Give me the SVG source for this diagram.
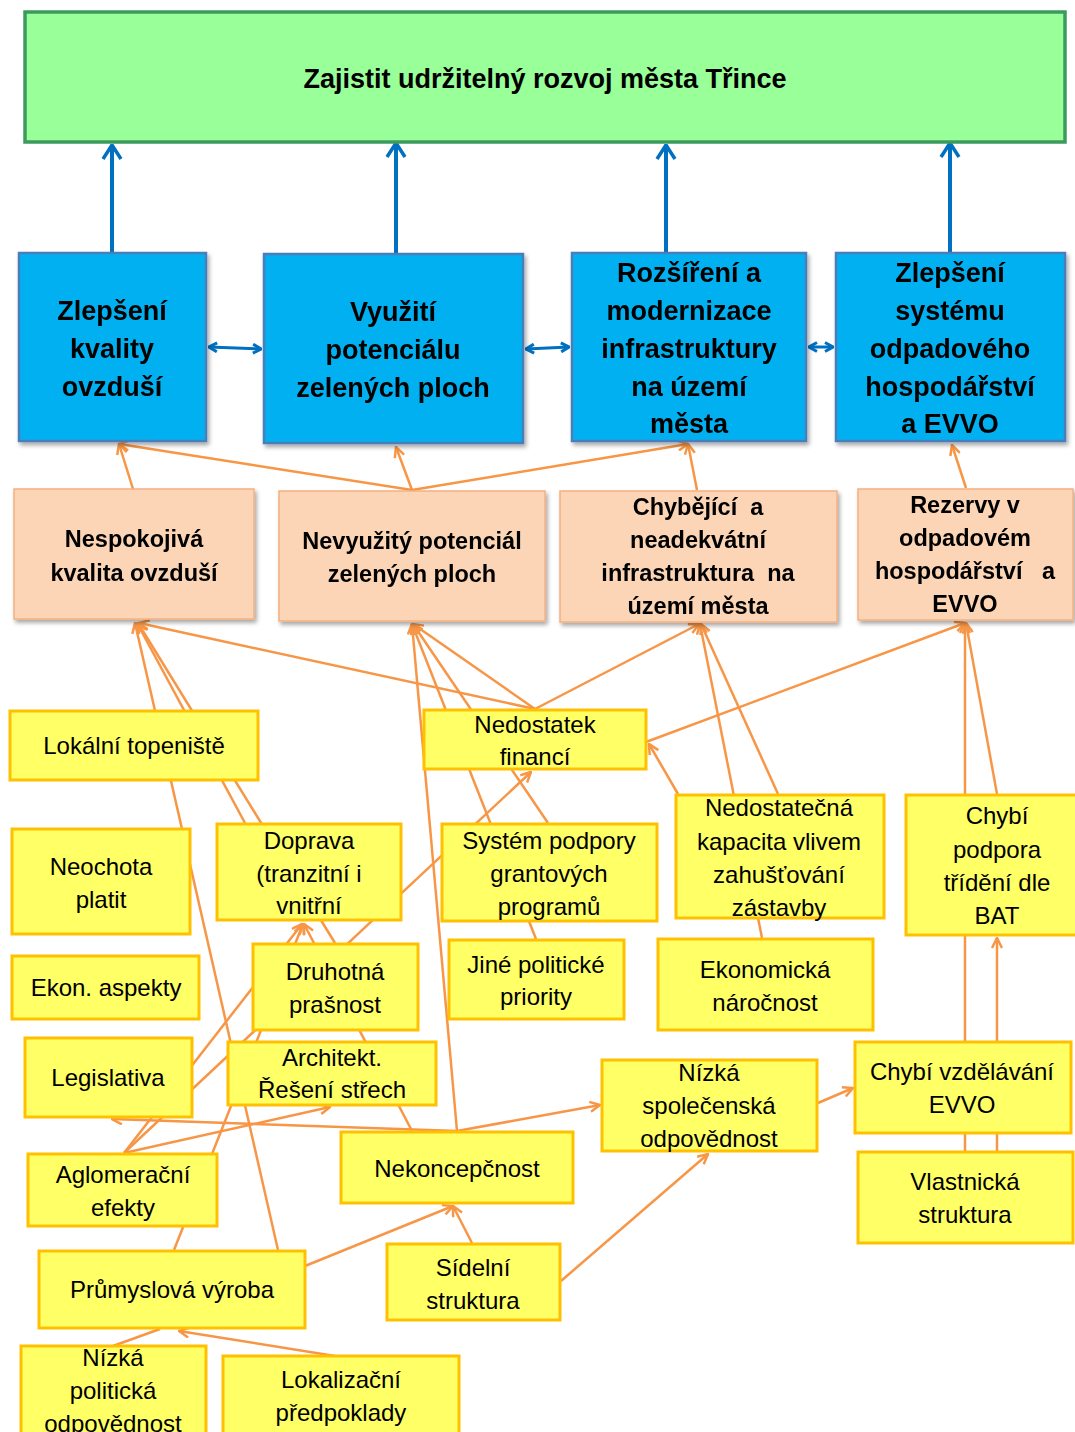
<svg xmlns="http://www.w3.org/2000/svg" width="1075" height="1432" viewBox="0 0 1075 1432">
<style>
text{font-family:"Liberation Sans",Arial,sans-serif;text-anchor:middle;fill:#000}
.goal rect{fill:#99FF99;stroke:#3C9A5F;stroke-width:3.5}
.goal text{font-size:27px;font-weight:bold}
.b rect{fill:#00B0F0;stroke:#4A7EBB;stroke-width:2.5}
.b text{font-size:27px;font-weight:bold}
.p rect{fill:#FBD5B5;stroke:#F5B080;stroke-width:1.5}
.p text{font-size:23.5px;font-weight:bold}
.y rect{fill:#FFFF66;stroke:#FFC000;stroke-width:3}
.y text{font-size:24px}
.co line{stroke:#F79646;stroke-width:2.5;fill:none}
.cb line{stroke:#0070C0;stroke-width:4;fill:none}
</style>
<defs>
<filter id="sh" x="-10%" y="-10%" width="125%" height="125%">
<feDropShadow dx="2" dy="3" stdDeviation="2" flood-color="#000" flood-opacity="0.35"/>
</filter>
<marker id="ao" viewBox="0 0 12 12" refX="11" refY="6" markerWidth="12" markerHeight="12" orient="auto" markerUnits="userSpaceOnUse">
<path d="M1,1 L11,6 L1,11" fill="none" stroke="#F79646" stroke-width="2.5"/>
</marker>
<marker id="ab" viewBox="0 0 16 22" refX="15" refY="11" markerWidth="16" markerHeight="22" orient="auto" markerUnits="userSpaceOnUse">
<path d="M1,2 L15,11 L1,20" fill="none" stroke="#0070C0" stroke-width="3.5"/>
</marker>
<marker id="as" viewBox="0 0 10 12" refX="9" refY="6" markerWidth="10" markerHeight="12" orient="auto-start-reverse" markerUnits="userSpaceOnUse">
<path d="M1,1.5 L9,6 L1,10.5" fill="none" stroke="#0070C0" stroke-width="3"/>
</marker>
</defs>
<rect x="0" y="0" width="1075" height="1432" fill="#FFFFFF"/>
<g id="connectors">
<g class="cb">
<line x1="112" y1="252" x2="112" y2="145" marker-end="url(#ab)"/>
<line x1="396" y1="253" x2="396" y2="143" marker-end="url(#ab)"/>
<line x1="666" y1="252" x2="666" y2="145" marker-end="url(#ab)"/>
<line x1="950" y1="252" x2="950" y2="143" marker-end="url(#ab)"/>
<line x1="209" y1="347" x2="261" y2="349" style="stroke-width:3" marker-start="url(#as)" marker-end="url(#as)"/>
<line x1="526" y1="349" x2="569" y2="347" style="stroke-width:3" marker-start="url(#as)" marker-end="url(#as)"/>
<line x1="809" y1="347" x2="833" y2="347" style="stroke-width:3" marker-start="url(#as)" marker-end="url(#as)"/>
</g>
<g class="co">
<line x1="133" y1="489" x2="119" y2="444" marker-end="url(#ao)"/>
<line x1="412" y1="490" x2="119" y2="444" marker-end="url(#ao)"/>
<line x1="412" y1="490" x2="396" y2="447" marker-end="url(#ao)"/>
<line x1="412" y1="490" x2="688" y2="444" marker-end="url(#ao)"/>
<line x1="697" y1="490" x2="688" y2="444" marker-end="url(#ao)"/>
<line x1="966" y1="488" x2="952" y2="445" marker-end="url(#ao)"/>
<line x1="278" y1="1250" x2="135" y2="623" marker-end="url(#ao)"/>
<line x1="245" y1="823" x2="137" y2="623" marker-end="url(#ao)"/>
<line x1="335" y1="943" x2="138" y2="623" marker-end="url(#ao)"/>
<line x1="535" y1="709" x2="139" y2="623" marker-end="url(#ao)"/>
<line x1="535" y1="709" x2="413" y2="624" marker-end="url(#ao)"/>
<line x1="536" y1="939" x2="412" y2="624" marker-end="url(#ao)"/>
<line x1="548" y1="823" x2="413" y2="624" marker-end="url(#ao)"/>
<line x1="457" y1="1131" x2="412" y2="624" marker-end="url(#ao)"/>
<line x1="535" y1="709" x2="699" y2="624" marker-end="url(#ao)"/>
<line x1="762" y1="938" x2="700" y2="624" marker-end="url(#ao)"/>
<line x1="778" y1="794" x2="701" y2="624" marker-end="url(#ao)"/>
<line x1="646" y1="742" x2="965" y2="623" marker-end="url(#ao)"/>
<line x1="965" y1="1151" x2="965" y2="623" marker-end="url(#ao)"/>
<line x1="997" y1="794" x2="966" y2="623" marker-end="url(#ao)"/>
<line x1="678" y1="794" x2="649" y2="744" marker-end="url(#ao)"/>
<line x1="124" y1="1153" x2="531" y2="772" marker-end="url(#ao)"/>
<line x1="174" y1="1250" x2="303" y2="924" marker-end="url(#ao)"/>
<line x1="124" y1="1153" x2="302" y2="924" marker-end="url(#ao)"/>
<line x1="412" y1="1131" x2="304" y2="924" marker-end="url(#ao)"/>
<line x1="124" y1="1153" x2="330" y2="1107" marker-end="url(#ao)"/>
<line x1="457" y1="1131" x2="112" y2="1119" marker-end="url(#ao)"/>
<line x1="457" y1="1131" x2="600" y2="1105" marker-end="url(#ao)"/>
<line x1="305" y1="1266" x2="453" y2="1206" marker-end="url(#ao)"/>
<line x1="472" y1="1243" x2="453" y2="1206" marker-end="url(#ao)"/>
<line x1="561" y1="1281" x2="708" y2="1154" marker-end="url(#ao)"/>
<line x1="818" y1="1103" x2="853" y2="1088" marker-end="url(#ao)"/>
<line x1="997" y1="1151" x2="997" y2="938" marker-end="url(#ao)"/>
<line x1="335" y1="1356" x2="179" y2="1331" marker-end="url(#ao)"/>
<line x1="113" y1="1346" x2="160" y2="1329"/>
</g>
</g>
<g id="goal" class="goal"><rect x="25" y="12" width="1040" height="130"/><text x="545" y="88">Zajistit udržitelný rozvoj města Třince</text></g>
<g id="b1" class="b" filter="url(#sh)"><rect x="19" y="253" width="187" height="188"/><text><tspan x="112" y="320">Zlepšení</tspan><tspan x="112" y="358">kvality</tspan><tspan x="112" y="396">ovzduší</tspan></text></g>
<g id="b2" class="b" filter="url(#sh)"><rect x="264" y="254" width="259" height="189"/><text><tspan x="393" y="321">Využití</tspan><tspan x="393" y="359">potenciálu</tspan><tspan x="393" y="397">zelených ploch</tspan></text></g>
<g id="b3" class="b" filter="url(#sh)"><rect x="572" y="253" width="234" height="188"/><text><tspan x="689" y="282">Rozšíření a</tspan><tspan x="689" y="320">modernizace</tspan><tspan x="689" y="358">infrastruktury</tspan><tspan x="689" y="396">na území</tspan><tspan x="689" y="433">města</tspan></text></g>
<g id="b4" class="b" filter="url(#sh)"><rect x="836" y="253" width="229" height="188"/><text><tspan x="950" y="282">Zlepšení</tspan><tspan x="950" y="320">systému</tspan><tspan x="950" y="358">odpadového</tspan><tspan x="950" y="396">hospodářství</tspan><tspan x="950" y="433">a EVVO</tspan></text></g>
<g id="p1" class="p" filter="url(#sh)"><rect x="14" y="489" width="240" height="130"/><text><tspan x="134" y="547">Nespokojivá</tspan><tspan x="134" y="581">kvalita ovzduší</tspan></text></g>
<g id="p2" class="p" filter="url(#sh)"><rect x="279" y="491" width="266" height="130"/><text><tspan x="412" y="549">Nevyužitý potenciál</tspan><tspan x="412" y="582">zelených ploch</tspan></text></g>
<g id="p3" class="p" filter="url(#sh)"><rect x="560" y="491" width="277" height="131"/><text xml:space="preserve"><tspan x="698" y="515">Chybějící  a</tspan><tspan x="698" y="548">neadekvátní</tspan><tspan x="698" y="581">infrastruktura  na</tspan><tspan x="698" y="614">území města</tspan></text></g>
<g id="p4" class="p" filter="url(#sh)"><rect x="858" y="489" width="215" height="131"/><text xml:space="preserve"><tspan x="965" y="513">Rezervy v</tspan><tspan x="965" y="546">odpadovém</tspan><tspan x="965" y="579">hospodářství   a</tspan><tspan x="965" y="612">EVVO</tspan></text></g>
<g id="y1" class="y"><rect x="10" y="711" width="248" height="69"/><text x="134" y="754">Lokální topeniště</text></g>
<g id="y2" class="y"><rect x="424" y="710" width="222" height="59"/><text><tspan x="535" y="733">Nedostatek</tspan><tspan x="535" y="765">financí</tspan></text></g>
<g id="y3" class="y"><rect x="12" y="829" width="178" height="105"/><text><tspan x="101" y="875">Neochota</tspan><tspan x="101" y="908">platit</tspan></text></g>
<g id="y4" class="y"><rect x="217" y="824" width="184" height="96"/><text><tspan x="309" y="849">Doprava</tspan><tspan x="309" y="882">(tranzitní i</tspan><tspan x="309" y="914">vnitřní</tspan></text></g>
<g id="y5" class="y"><rect x="442" y="824" width="215" height="97"/><text><tspan x="549" y="849">Systém podpory</tspan><tspan x="549" y="882">grantových</tspan><tspan x="549" y="915">programů</tspan></text></g>
<g id="y6" class="y"><rect x="676" y="795" width="208" height="123"/><text><tspan x="779" y="816">Nedostatečná</tspan><tspan x="779" y="850">kapacita vlivem</tspan><tspan x="779" y="883">zahušťování</tspan><tspan x="779" y="916">zástavby</tspan></text></g>
<g id="y7" class="y"><rect x="906" y="795" width="172" height="140"/><text><tspan x="997" y="824">Chybí</tspan><tspan x="997" y="858">podpora</tspan><tspan x="997" y="891">třídění dle</tspan><tspan x="997" y="924">BAT</tspan></text></g>
<g id="y8" class="y"><rect x="12" y="956" width="187" height="63"/><text x="106" y="996">Ekon. aspekty</text></g>
<g id="y9" class="y"><rect x="253" y="944" width="165" height="86"/><text><tspan x="335" y="980">Druhotná</tspan><tspan x="335" y="1013">prašnost</tspan></text></g>
<g id="y10" class="y"><rect x="449" y="940" width="175" height="79"/><text><tspan x="536" y="973">Jiné politické</tspan><tspan x="536" y="1005">priority</tspan></text></g>
<g id="y11" class="y"><rect x="658" y="939" width="215" height="91"/><text><tspan x="765" y="978">Ekonomická</tspan><tspan x="765" y="1011">náročnost</tspan></text></g>
<g id="y12" class="y"><rect x="25" y="1038" width="167" height="79"/><text x="108" y="1086">Legislativa</text></g>
<g id="y13" class="y"><rect x="228" y="1042" width="208" height="63"/><text><tspan x="332" y="1066">Architekt.</tspan><tspan x="332" y="1098">Řešení střech</tspan></text></g>
<g id="y14" class="y"><rect x="602" y="1060" width="215" height="91"/><text><tspan x="709" y="1081">Nízká</tspan><tspan x="709" y="1114">společenská</tspan><tspan x="709" y="1147">odpovědnost</tspan></text></g>
<g id="y15" class="y"><rect x="855" y="1042" width="216" height="91"/><text><tspan x="962" y="1080">Chybí vzdělávání</tspan><tspan x="962" y="1113">EVVO</tspan></text></g>
<g id="y16" class="y"><rect x="28" y="1154" width="189" height="72"/><text><tspan x="123" y="1183">Aglomerační</tspan><tspan x="123" y="1216">efekty</tspan></text></g>
<g id="y17" class="y"><rect x="341" y="1132" width="232" height="71"/><text x="457" y="1177">Nekoncepčnost</text></g>
<g id="y18" class="y"><rect x="858" y="1152" width="215" height="91"/><text><tspan x="965" y="1190">Vlastnická</tspan><tspan x="965" y="1223">struktura</tspan></text></g>
<g id="y19" class="y"><rect x="39" y="1251" width="266" height="77"/><text x="172" y="1298">Průmyslová výroba</text></g>
<g id="y20" class="y"><rect x="387" y="1244" width="173" height="76"/><text><tspan x="473" y="1276">Sídelní</tspan><tspan x="473" y="1309">struktura</tspan></text></g>
<g id="y21" class="y"><rect x="21" y="1346" width="185" height="100"/><text><tspan x="113" y="1366">Nízká</tspan><tspan x="113" y="1399">politická</tspan><tspan x="113" y="1432">odpovědnost</tspan></text></g>
<g id="y22" class="y"><rect x="223" y="1356" width="236" height="90"/><text><tspan x="341" y="1388">Lokalizační</tspan><tspan x="341" y="1421">předpoklady</tspan></text></g>
</svg>
